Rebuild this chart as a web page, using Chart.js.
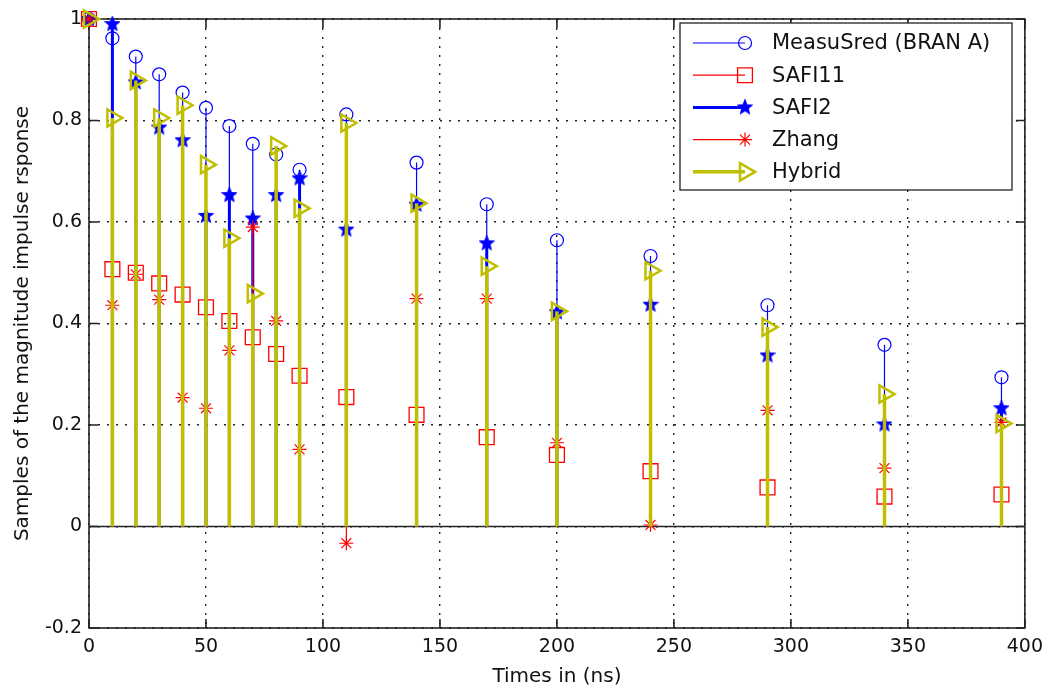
<!DOCTYPE html>
<html>
<head>
<meta charset="utf-8">
<script src="https://cdn.jsdelivr.net/npm/chart.js@4/dist/chart.umd.min.js"></script>
<style>
  body { margin: 0; background: #fff; }
</style>
</head>
<body>
<canvas id="stemChart" width="1051" height="691"></canvas>
<script>
// sample times (ns)
const times = [0, 10, 20, 30, 40, 50, 60, 70, 80, 90, 110, 140, 170, 200, 240, 290, 340, 390];

// series
const measured = [1, 0.962, 0.926, 0.891, 0.855, 0.825, 0.789, 0.754, 0.733, 0.703, 0.812, 0.717, 0.635, 0.564, 0.533, 0.436, 0.358, 0.294];
const safi11 = [1, 0.507, 0.500, 0.479, 0.457, 0.432, 0.405, 0.373, 0.340, 0.297, 0.255, 0.220, 0.176, 0.141, 0.109, 0.077, 0.059, 0.063];
const safi2 = [1, 0.990, 0.875, 0.786, 0.761, 0.612, 0.653, 0.607, 0.653, 0.686, 0.585, 0.634, 0.558, 0.422, 0.437, 0.337, 0.201, 0.233];
const zhang = [1, 0.436, 0.497, 0.447, 0.254, 0.233, 0.347, 0.590, 0.405, 0.152, -0.033, 0.449, 0.449, 0.165, 0.003, 0.229, 0.115, 0.205];
const hybrid = [1, 0.805, 0.879, 0.805, 0.830, 0.713, 0.568, 0.459, 0.750, 0.627, 0.795, 0.637, 0.513, 0.424, 0.504, 0.393, 0.261, 0.203];

const seriesNames = ['MeasuSred (BRAN A)', 'SAFI11', 'SAFI2', 'Zhang', 'Hybrid'];

const xTicks = [0, 50, 100, 150, 200, 250, 300, 350, 400];
const yTicks = [-0.2, 0, 0.2, 0.4, 0.6, 0.8, 1];

const blue = '#0000ff';
const red = '#ff0000';
const olive = '#bfbf00';
const FONT = '"DejaVu Sans", sans-serif';

// filled pentagram for SAFI2
function makeStar(size, color) {
    const c = document.createElement('canvas');
    c.width = size;
    c.height = size;
    const g = c.getContext('2d');
    const R = size / 2 - 1, r = R * 0.45;
    g.beginPath();
    for (let k = 0; k < 10; k++) {
        const a = -Math.PI / 2 + k * Math.PI / 5;
        const rr = k % 2 ? r : R;
        g.lineTo(size / 2 + rr * Math.cos(a), size / 2 + rr * Math.sin(a));
    }
    g.closePath();
    g.fillStyle = color;
    g.fill();
    g.strokeStyle = color;
    g.lineWidth = 1.5;
    g.stroke();
    return c;
}
const starImg = makeStar(16, blue);

// each stem = (x,0) -> (x,v), then a gap
function stems(xs, ys) {
    const pts = [];
    xs.forEach((x, i) => {
        pts.push({ x: x, y: 0 }, { x: x, y: ys[i] }, { x: x, y: null });
    });
    return pts;
}

const markers = [
    { pointStyle: 'circle', radius: 6.5, borderWidth: 1.2, color: blue, lineWidth: 1.2 },
    { pointStyle: 'rect', radius: 10.5, borderWidth: 1.3, color: red, lineWidth: 1.2 },
    { pointStyle: starImg, radius: 8, borderWidth: 1, color: blue, lineWidth: 3 },
    { pointStyle: 'star', radius: 7, borderWidth: 1.2, color: red, lineWidth: 1.2 },
    { pointStyle: 'triangle', radius: 10, borderWidth: 2.5, color: olive, lineWidth: 3.5, rotation: 90 }
];

const values = [measured, safi11, safi2, zhang, hybrid];

const datasets = values.map((vals, k) => {
    const m = markers[k];
    return {
        label: seriesNames[k],
        data: stems(times, vals),
        showLine: true,
        spanGaps: false,
        borderColor: m.color,
        borderWidth: m.lineWidth,
        backgroundColor: 'rgba(0,0,0,0)',
        // the t=0 stem lies on the y axis and is hidden by it in the figure
        segment: {
            borderColor: c => (c.p0.parsed.x === 0 ? 'rgba(0,0,0,0)' : undefined)
        },
        pointStyle: m.pointStyle,
        pointRotation: m.rotation || 0,
        pointBorderColor: m.color,
        pointBackgroundColor: 'rgba(0,0,0,0)',
        pointBorderWidth: m.borderWidth,
        pointRadius: ctx => (ctx.dataIndex % 3 === 1 ? m.radius : 0),
        pointHoverRadius: ctx => (ctx.dataIndex % 3 === 1 ? m.radius : 0),
        clip: false,
        order: 5 - k
    };
});

// axes box, inward ticks, stem baseline
const matlabAxes = {
    id: 'matlabAxes',
    beforeDatasetsDraw(chart) {
        const { ctx, chartArea: a, scales: { x, y } } = chart;
        ctx.save();
        ctx.setLineDash([]);
        ctx.strokeStyle = '#222';
        ctx.lineWidth = 1.6;
        const y0 = y.getPixelForValue(0);
        ctx.beginPath();
        ctx.moveTo(a.left, y0);
        ctx.lineTo(a.right, y0);
        ctx.stroke();
        ctx.strokeRect(a.left, a.top, a.right - a.left, a.bottom - a.top);
        const t = 9;
        ctx.beginPath();
        xTicks.forEach(v => {
            const px = x.getPixelForValue(v);
            ctx.moveTo(px, a.bottom); ctx.lineTo(px, a.bottom - t);
            ctx.moveTo(px, a.top); ctx.lineTo(px, a.top + t);
        });
        yTicks.forEach(v => {
            const py = y.getPixelForValue(v);
            ctx.moveTo(a.left, py); ctx.lineTo(a.left + t, py);
            ctx.moveTo(a.right, py); ctx.lineTo(a.right - t, py);
        });
        ctx.stroke();
        ctx.restore();
    },
    afterDraw(chart) {
        const ctx = chart.ctx;
        const bx = 680, by = 23, bw = 332, bh = 167;
        ctx.save();
        ctx.setLineDash([]);
        ctx.fillStyle = '#fff';
        ctx.fillRect(bx, by, bw, bh);
        ctx.strokeStyle = '#222';
        ctx.lineWidth = 1.3;
        ctx.strokeRect(bx, by, bw, bh);
        seriesNames.forEach((name, k) => {
            const m = markers[k];
            const ly = 43 + k * 32.2;
            ctx.strokeStyle = m.color;
            ctx.lineWidth = m.lineWidth;
            ctx.beginPath();
            ctx.moveTo(693, ly);
            ctx.lineTo(745, ly);
            ctx.stroke();
            ctx.fillStyle = 'rgba(0,0,0,0)';
            ctx.lineWidth = m.borderWidth;
            Chart.helpers.drawPoint(ctx, {
                pointStyle: m.pointStyle,
                radius: m.radius,
                rotation: m.rotation || 0,
                borderWidth: m.borderWidth
            }, 745, ly);
            ctx.fillStyle = '#111';
            ctx.font = '21px ' + FONT;
            ctx.textBaseline = 'middle';
            ctx.textAlign = 'left';
            ctx.fillText(name, 772, ly + 1);
        });
        ctx.restore();
    }
};

const ctxStem = document.getElementById('stemChart').getContext('2d');

const stemChart = new Chart(ctxStem, {
    type: 'scatter',
    data: { datasets: datasets },
    options: {
        responsive: false,
        animation: false,
        events: [],
        layout: { padding: { top: 19, right: 23, left: 0, bottom: 0 } },
        plugins: {
            legend: { display: false },
            tooltip: { enabled: false }
        },
        scales: {
            x: {
                type: 'linear',
                min: 0,
                max: 400,
                afterBuildTicks: s => { s.ticks = xTicks.map(v => ({ value: v })); },
                afterFit: s => { s.height = 63; },
                ticks: {
                    autoSkip: false,
                    maxRotation: 0,
                    padding: 8,
                    color: '#111',
                    font: { family: FONT, size: 19 },
                    callback: v => String(v)
                },
                grid: { color: '#222', lineWidth: 1.4, drawTicks: false },
                border: { display: false, dash: [2, 7] },
                title: {
                    display: true,
                    text: 'Times in (ns)',
                    color: '#111',
                    font: { family: FONT, size: 20 },
                    padding: { top: 0, bottom: 2 }
                }
            },
            y: {
                type: 'linear',
                min: -0.2,
                max: 1,
                afterBuildTicks: s => { s.ticks = yTicks.map(v => ({ value: v })); },
                afterFit: s => { s.width = 89; },
                ticks: {
                    autoSkip: false,
                    padding: 7,
                    color: '#111',
                    font: { family: FONT, size: 19 },
                    callback: v => String(v)
                },
                grid: { color: '#222', lineWidth: 1.4, drawTicks: false },
                border: { display: false, dash: [2, 7] },
                title: {
                    display: true,
                    text: 'Samples of the magnitude impulse rsponse',
                    color: '#111',
                    font: { family: FONT, size: 20 },
                    padding: { top: 11, bottom: 0 }
                }
            }
        }
    },
    plugins: [matlabAxes]
});
</script>
</body>
</html>
